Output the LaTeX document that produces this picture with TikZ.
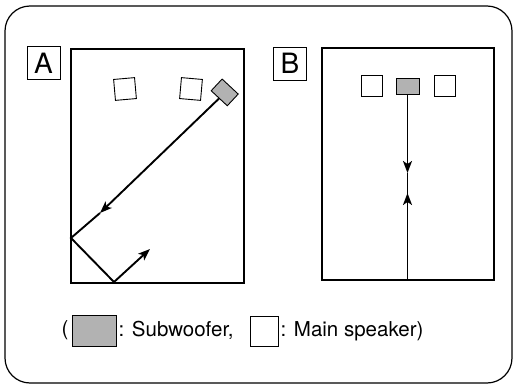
\documentclass[tikz,border=0pt]{standalone}
\usepackage{fontspec}
\setmainfont{TeX Gyre Heros}
\usetikzlibrary{arrows.meta}
\definecolor{woofer}{gray}{0.70}
\tikzset{
  spk/.style={draw, fill=white, line width=0.9pt, minimum size=21pt, inner sep=0pt},
  sub/.style={draw, fill=woofer, line width=0.9pt, minimum width=22pt, minimum height=16pt, inner sep=0pt},
  lbl/.style={draw, line width=0.9pt, minimum size=33pt, inner sep=0pt, font=\fontsize{28}{30}\selectfont},
  ray/.style={line width=1.9pt},
  tip/.style={-{Stealth[length=12pt,width=9pt,inset=3pt]}},
  key/.style={inner sep=2pt, font=\fontsize{20.5}{24}\selectfont}
}
\begin{document}
\begin{tikzpicture}[x=1pt,y=-1pt]
		%%%%% START %%%%%
		\useasboundingbox (0,0) rectangle (515,386);
		\draw[line width=1.2pt, rounded corners=25pt] (5,6) rectangle (512,383);
		
		%% room A
		\node[lbl] (labA) at (43.5,63) {A};
		\draw[line width=1.6pt] (71,49) rectangle (244,283);
		\node[spk, rotate=5] (a1) at (125,89) {};
		\node[spk, rotate=-5] (a2) at (191,89) {};
		\node[sub, rotate=-43] (aw) at (224.7,92.4) {};
		
		\coordinate (ah) at (100,213);
		\coordinate (aw1) at (71,238);
		\coordinate (af) at (114,282);
		\coordinate (ae) at (150,249);
		\draw[ray, tip] (aw.south) -- (ah);
		\draw[ray] (ah) -- (aw1) -- (af);
		\draw[ray, tip] (af) -- (ae);
		
		%% room B
		\node[lbl] (labB) at (290,63.5) {B};
		\draw[line width=1.6pt] (322,48) rectangle (494,280);
		\node[spk] (b1) at (371.5,86) {};
		\node[sub, minimum width=23pt] (bw) at (407.5,86) {};
		\node[spk] (b2) at (445,86) {};
		
		\coordinate (bd) at (407.5,173);
		\coordinate (bu) at (407.5,193);
		\coordinate (bf) at (407.5,280);
		\draw[ray, tip] (bw.south) -- (bd);
		\draw[ray] (bd) -- (bf);
		\draw[ray, tip] (bf) -- (bu);
		
		%% legend
		\node[key] (po) at (65,330) {(};
		\node[sub, minimum width=44pt, minimum height=31pt] (kw) at (94,330.5) {};
		\node[key, anchor=west] (kwt) at (kw.east) {: Subwoofer,};
		\node[spk, minimum width=28pt, minimum height=30pt] (km) at (264,331) {};
		\node[key, anchor=west] (kmt) at (km.east) {: Main speaker)};
		%%%%% END %%%%%
\end{tikzpicture}
\end{document}
